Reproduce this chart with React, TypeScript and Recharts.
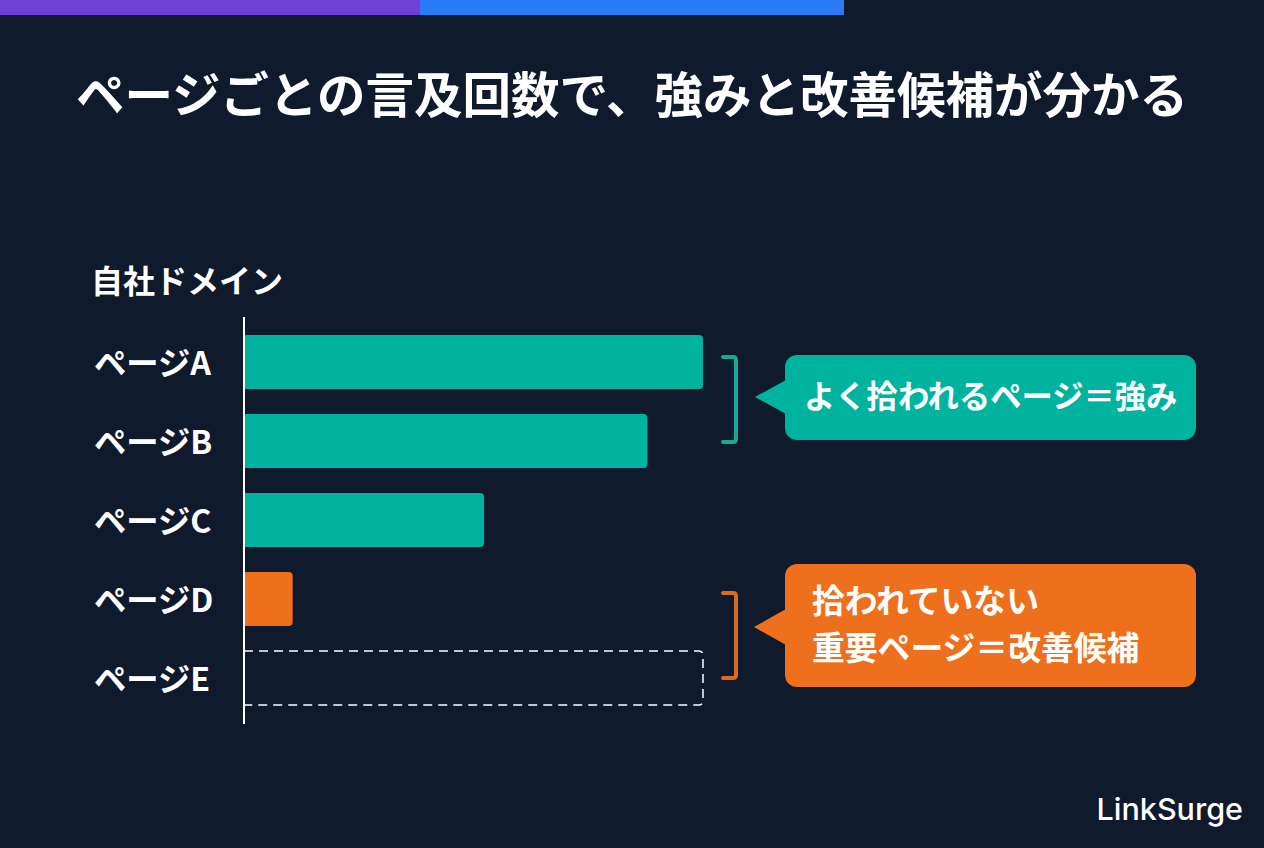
import React from "react";
import { BarChart, Bar, XAxis, YAxis, Cell } from "recharts";

const categories = ["ページA", "ページB", "ページC", "ページD", "ページE"];
const mentions = [100, 87.9, 52.3, 10.6, 0];
const placeholder = [0, 0, 0, 0, 100];
const barColors = ["#00b39f", "#00b39f", "#00b39f", "#ee6f1c", "none"];
const titleText = "ページごとの言及回数で、強みと改善候補が分かる";
const axisTitle = "自社ドメイン";
const strengthText = "よく拾われるページ\uFF1D強み";
const improveLines = ["拾われていない", "重要ページ\uFF1D改善候補"];
const brandText = "LinkSurge";

const rows = categories.map((name, i) => ({ name, mentions: mentions[i], placeholder: placeholder[i] }));

const FONT = '"Noto Sans CJK JP", "Noto Sans", sans-serif';
const BG = "#0f1a2d";
const TEAL = "#00b39f";
const ORANGE = "#ee6f1c";

const PageTick = (props: any) => (
  <text x={94} y={props.y + 13} fill="#ffffff" fontSize={32.3} fontWeight={700} fontFamily={FONT} textAnchor="start">
    {props.payload.value}
  </text>
);

export default function App() {
  return (
    <div style={{ position: "fixed", left: 0, top: 0, width: 1264, height: 848, background: BG, overflow: "hidden", fontFamily: FONT }}>
      <div style={{ position: "absolute", left: 0, top: 0, width: 420, height: 15, background: "#6f3fd6" }} />
      <div style={{ position: "absolute", left: 420, top: 0, width: 424, height: 15, background: "#2a7bf5" }} />
      <div style={{ position: "absolute", left: 0, top: 0 }}>
        <BarChart
          width={1264}
          height={848}
          data={rows}
          layout="vertical"
          barCategoryGap={12.5}
          margin={{ top: 317, right: 561, bottom: 124, left: 94 }}
        >
          <XAxis type="number" domain={[0, 100]} hide />
          <YAxis
            type="category"
            dataKey="name"
            width={150}
            padding={{ top: 5.5, bottom: 6.5 }}
            axisLine={{ stroke: "#ffffff", strokeWidth: 2 }}
            tickLine={false}
            tick={<PageTick />}
            interval={0}
          />
          <Bar dataKey="placeholder" stackId="s" isAnimationActive={false} fill="none" stroke="#ffffff" strokeWidth={1.5} strokeDasharray="9 6" radius={[0, 4, 4, 0]} />
          <Bar dataKey="mentions" stackId="s" isAnimationActive={false} radius={[0, 4, 4, 0]}>
            {rows.map((r, i) => (
              <Cell key={r.name} fill={barColors[i]} />
            ))}
          </Bar>
        </BarChart>
      </div>
      <svg width={1264} height={848} style={{ position: "absolute", left: 0, top: 0, pointerEvents: "none" }} fontFamily={FONT}>
        <text x={632} y={113} fill="#fff" fontSize={48.5} fontWeight={700} textAnchor="middle">{titleText}</text>
        <text x={91} y={293} fill="#fff" fontSize={32} fontWeight={700}>{axisTitle}</text>

        <path d="M723 357 H733 Q736 357 736 360 V439 Q736 442 733 442 H723" fill="none" stroke="#14a898" strokeWidth={4} strokeLinecap="round" />
        <path d="M755 397 L786 380 V414 Z" fill={TEAL} />
        <rect x={785} y={355} width={411} height={85} rx={12} fill={TEAL} />
        <text x={804} y={408} fill="#fff" fontSize={31.3} fontWeight={700}>{strengthText}</text>

        <path d="M723 593 H733 Q736 593 736 596 V675 Q736 678 733 678 H723" fill="none" stroke="#dc6a20" strokeWidth={4} strokeLinecap="round" />
        <path d="M754 627 L786 609 V645 Z" fill={ORANGE} />
        <rect x={785} y={564} width={411} height={123} rx={12} fill={ORANGE} />
        <text x={812} y={613} fill="#fff" fontSize={32.8} fontWeight={700}>{improveLines[0]}</text>
        <text x={812} y={660} fill="#fff" fontSize={32.8} fontWeight={700}>{improveLines[1]}</text>

        <text x={1243} y={820} fill="#fff" fontSize={30.5} fontWeight={500} textAnchor="end" fontFamily='Inter, sans-serif'>{brandText}</text>
      </svg>
    </div>
  );
}
